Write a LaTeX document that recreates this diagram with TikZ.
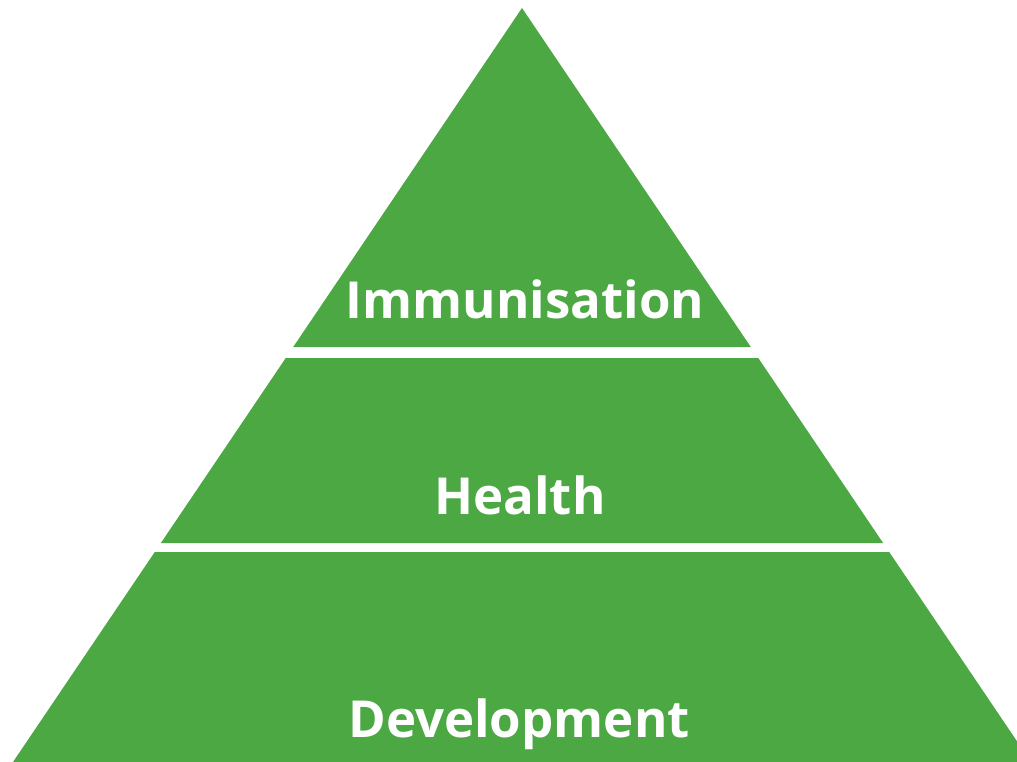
\documentclass[tikz,border=0pt]{standalone}
\usepackage{fontspec}
\setmainfont{Open Sans}
\definecolor{pyrgreen}{RGB}{75,168,67}
\begin{document}
\begin{tikzpicture}[x=1pt,y=-1pt,
  layer/.style={fill=pyrgreen,draw=none},
  lbl/.style={text=white,font=\fontsize{51}{61}\selectfont\bfseries,anchor=base,inner sep=0pt}]
\useasboundingbox (0,0) rectangle (1017,762);
\begin{scope}
\clip (0,0) rectangle (1017,762);
\fill[layer] (522,8) -- (750.8,347) -- (293.2,347) -- cycle;
\fill[layer] (285.75,358) -- (758.25,358) -- (883.1,543) -- (160.9,543) -- cycle;
\fill[layer] (154.8,552) -- (889.2,552) -- (1031,762) -- (13,762) -- cycle;
\end{scope}
\node[lbl] (imm) at (525,318) {Immunisation};
\node[lbl] (hea) at (520,514) {Health};
\node[lbl] (dev) at (519,737) {Development};
\end{tikzpicture}
\end{document}
